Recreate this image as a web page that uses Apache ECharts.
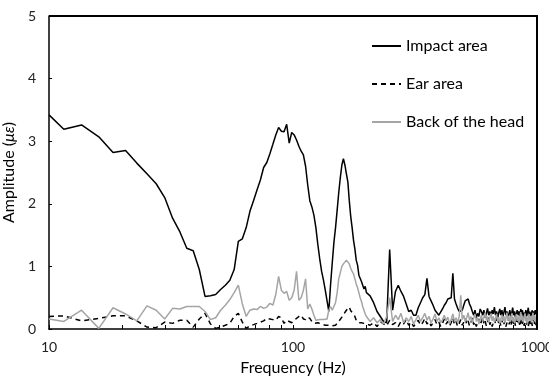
<!DOCTYPE html>
<html>
<head>
<meta charset="utf-8">
<script src="https://cdn.jsdelivr.net/npm/echarts@6/dist/echarts.min.js"></script>
<style>
html,body{margin:0;padding:0;background:#fff;}
#wrap{position:relative;width:549px;height:378px;}
#chart{width:549px;height:378px;}
.ov{position:absolute;pointer-events:none;}
</style>
</head>
<body>
<div id="wrap"><div id="chart"></div></div>
<script>
// Frequency (Hz)
const freq = [
  10,11.5,13.6,16.0,18.3,20.6,22.9,25.2,27.5,29.8,
  32.1,34.4,36.7,39.0,41.3,43.6,45.9,48.2,50.5,52.8,
  55.1,57.4,59.7,62.0,64.3,66.6,68.9,71.2,73.5,75.8,
  78.1,80.4,82.7,85.0,87.3,89.6,91.9,94.2,96.5,98.8,
  101.1,103.4,105.7,108.0,110.3,112.6,114.9,117.2,119.5,121.8,
  124.1,126.4,128.7,131.0,133.3,135.6,137.9,140.2,142.5,144.8,
  147.1,149.4,151.7,154.0,156.3,158.6,160.9,163.2,165.5,167.8,
  170.1,172.4,174.7,177.0,179.3,181.6,183.9,186.2,188.5,190.8,
  193.1,195.4,197.7,200.0,
  207,214,221,228,235,242,249,256,263,270,
  277,284,291,298,305,312,319,326,333,340,
  347,354,361,368,375,382,389,396,403,410,
  417,424,431,438,445,452,459,466,473,480,
  487,494,501,508,515,522,529,536,543,550,
  557,564,571,578,585,592,599,606,613,620,
  627,634,641,648,655,662,669,676,683,690,
  697,704,711,718,725,732,739,746,753,760,
  767,774,781,788,795,802,809,816,823,830,
  837,844,851,858,865,872,879,886,893,900,
  907,914,921,928,935,942,949,956,963,970,
  977,984,991,998
];
// Amplitude (με) – Impact area
const impactArea = [
  3.42,3.19,3.26,3.07,2.82,2.85,2.65,2.48,2.32,2.10,
  1.77,1.55,1.29,1.25,0.95,0.52,0.53,0.55,0.63,0.70,
  0.78,0.95,1.40,1.44,1.62,1.88,2.05,2.22,2.38,2.58,
  2.66,2.80,2.95,3.10,3.22,3.16,3.15,3.27,2.97,3.14,
  3.10,3.02,2.92,2.84,2.78,2.60,2.30,2.05,1.95,1.82,
  1.62,1.35,1.12,0.92,0.78,0.62,0.45,0.28,0.70,1.05,
  1.38,1.62,1.90,2.18,2.42,2.62,2.72,2.62,2.48,2.35,
  2.05,1.80,1.62,1.42,1.28,1.10,1.02,0.86,0.88,0.76,
  0.78,0.64,0.68,0.58,
  0.53,0.42,0.28,0.20,0.12,0.10,1.27,0.30,0.60,0.70,
  0.60,0.52,0.40,0.28,0.30,0.22,0.22,0.34,0.42,0.50,
  0.55,0.81,0.52,0.45,0.38,0.30,0.28,0.22,0.25,0.32,
  0.38,0.42,0.48,0.45,0.50,0.89,0.48,0.40,0.33,0.28,
  0.25,0.30,0.38,0.45,0.42,0.48,0.40,0.35,0.28,0.22,
  0.30,0.18,0.25,0.20,0.32,0.28,0.22,0.30,0.18,0.25,
  0.33,0.22,0.28,0.20,0.30,0.24,0.35,0.22,0.28,0.18,
  0.26,0.32,0.22,0.30,0.20,0.27,0.35,0.22,0.28,0.18,
  0.24,0.30,0.20,0.26,0.34,0.22,0.28,0.18,0.25,0.30,
  0.22,0.28,0.20,0.32,0.24,0.30,0.18,0.26,0.22,0.30,
  0.20,0.27,0.34,0.22,0.28,0.18,0.25,0.30,0.20,0.28,
  0.22,0.30,0.24,0.28
];
// Amplitude (με) – Ear area
const earArea = [
  0.20,0.21,0.13,0.17,0.21,0.21,0.13,0.03,0.02,0.11,
  0.09,0.14,0.14,0.03,0.16,0.25,0.08,0.01,0.03,0.06,
  0.09,0.20,0.25,0.11,0.01,0.05,0.07,0.09,0.11,0.13,
  0.17,0.16,0.15,0.14,0.20,0.18,0.09,0.14,0.12,0.10,
  0.14,0.17,0.20,0.22,0.16,0.15,0.19,0.17,0.12,0.09,
  0.10,0.10,0.10,0.08,0.06,0.06,0.06,0.06,0.05,0.05,
  0.05,0.06,0.09,0.12,0.15,0.19,0.23,0.26,0.30,0.32,
  0.35,0.29,0.26,0.24,0.20,0.14,0.12,0.10,0.08,0.10,
  0.07,0.09,0.06,0.08,
  0.06,0.10,0.04,0.12,0.08,0.05,0.14,0.07,0.10,0.04,
  0.12,0.08,0.15,0.06,0.11,0.04,0.09,0.14,0.06,0.10,
  0.17,0.08,0.12,0.05,0.10,0.15,0.07,0.11,0.04,0.09,
  0.16,0.08,0.12,0.05,0.10,0.18,0.07,0.12,0.04,0.09,
  0.15,0.06,0.11,0.17,0.08,0.13,0.05,0.10,0.18,0.07,
  0.12,0.04,0.10,0.16,0.07,0.12,0.20,0.08,0.13,0.05,
  0.11,0.18,0.07,0.12,0.04,0.10,0.16,0.08,0.13,0.22,
  0.07,0.12,0.05,0.10,0.17,0.08,0.13,0.04,0.10,0.19,
  0.07,0.12,0.05,0.11,0.18,0.08,0.14,0.05,0.10,0.22,
  0.07,0.12,0.04,0.11,0.17,0.08,0.13,0.05,0.10,0.19,
  0.07,0.12,0.04,0.10,0.16,0.08,0.14,0.05,0.11,0.20,
  0.08,0.13,0.06,0.12
];
// Amplitude (με) – Back of the head
const backOfHead = [
  0.16,0.12,0.30,0.01,0.34,0.24,0.13,0.37,0.30,0.16,
  0.33,0.32,0.36,0.36,0.36,0.28,0.15,0.18,0.30,0.38,
  0.47,0.58,0.70,0.40,0.20,0.30,0.32,0.31,0.36,0.33,
  0.35,0.41,0.38,0.55,0.84,0.62,0.57,0.60,0.46,0.50,
  0.62,0.92,0.46,0.50,0.62,0.80,0.32,0.40,0.32,0.22,
  0.14,0.12,0.15,0.17,0.15,0.13,0.16,0.30,0.36,0.30,
  0.30,0.42,0.58,0.80,0.90,1.00,1.04,1.07,1.10,1.09,
  1.04,0.97,0.92,0.88,0.80,0.72,0.66,0.58,0.50,0.44,
  0.36,0.30,0.24,0.20,
  0.12,0.18,0.10,0.15,0.08,0.20,0.50,0.12,0.22,0.15,
  0.25,0.10,0.18,0.12,0.20,0.08,0.15,0.22,0.12,0.18,
  0.25,0.14,0.20,0.10,0.16,0.24,0.12,0.18,0.10,0.15,
  0.22,0.13,0.19,0.08,0.16,0.24,0.12,0.18,0.10,0.20,
  0.54,0.15,0.22,0.12,0.18,0.26,0.14,0.20,0.10,0.17,
  0.24,0.12,0.18,0.08,0.16,0.22,0.12,0.19,0.26,0.14,
  0.20,0.10,0.18,0.25,0.13,0.20,0.11,0.17,0.24,0.12,
  0.19,0.09,0.16,0.23,0.13,0.20,0.10,0.18,0.26,0.14,
  0.21,0.11,0.17,0.25,0.12,0.19,0.09,0.16,0.24,0.13,
  0.20,0.10,0.18,0.27,0.14,0.21,0.11,0.18,0.25,0.12,
  0.20,0.09,0.17,0.24,0.13,0.21,0.10,0.18,0.26,0.14,
  0.20,0.11,0.19,0.24
];
const seriesNames = ['Impact area', 'Ear area', 'Back of the head'];
const xTickLabels = [10, 100, 1000];
const yTickLabels = [0, 1, 2, 3, 4, 5];
const minorTicks = [20,30,40,50,60,70,80,90,200,300,400,500,600,700,800,900];

const FONT = 'Lato, "Open Sans", sans-serif';
const chart = echarts.init(document.getElementById('chart'), null, {renderer: 'canvas'});
const pair = arr => freq.map((f, i) => [f, arr[i]]);
const xMin = xTickLabels[0], xMax = xTickLabels[xTickLabels.length - 1];
const yMin = yTickLabels[0], yMax = yTickLabels[yTickLabels.length - 1];

chart.setOption({
  animation: false,
  backgroundColor: '#fff',
  grid: {left: 49, right: 12, top: 16, bottom: 49, show: false,
         containLabel: false, outerBoundsMode: 'none'},
  legend: {
    orient: 'vertical', left: 371, top: 38, padding: 0,
    itemWidth: 29, itemHeight: 10, itemGap: 22,
    itemStyle: {opacity: 0},
    textStyle: {fontFamily: FONT, fontSize: 16, color: '#000'},
    data: seriesNames
  },
  xAxis: {
    type: 'log', logBase: 10, min: xMin, max: xMax,
    name: 'Frequency (Hz)', nameLocation: 'middle', nameGap: 31,
    nameTextStyle: {fontFamily: FONT, fontSize: 16, color: '#000'},
    axisLine: {onZero: false, lineStyle: {color: '#000', width: 1.5}},
    axisTick: {show: true, inside: true, length: 4, lineStyle: {color: '#000'}},
    axisLabel: {fontFamily: FONT, fontSize: 14, color: '#222', margin: 11, formatter: v => String(v)},
    splitLine: {show: false}
  },
  yAxis: {
    type: 'value', min: yMin, max: yMax, interval: 1,
    name: 'Amplitude ({i|με})', nameLocation: 'middle', nameGap: 24, nameRotate: 90,
    nameTextStyle: {fontFamily: FONT, fontSize: 16, color: '#000',
      rich: {i: {fontFamily: FONT, fontSize: 16, fontStyle: 'italic', color: '#000'}}},
    axisLine: {show: true, onZero: false, lineStyle: {color: '#000', width: 1.5}},
    axisTick: {show: true, inside: true, length: 3, lineStyle: {color: '#000'}},
    axisLabel: {fontFamily: FONT, fontSize: 14, color: '#222', margin: 13},
    splitLine: {show: false}
  },
  series: [
    {
      name: seriesNames[0], type: 'line', data: pair(impactArea),
      symbol: 'none', showSymbol: false,
      lineStyle: {color: '#000', width: 1.5}, itemStyle: {color: '#000'}
    },
    {
      name: seriesNames[1], type: 'line', data: pair(earArea),
      symbol: 'none', showSymbol: false,
      lineStyle: {color: '#000', width: 1.5, type: [5, 4]}, itemStyle: {color: '#000'}
    },
    {
      name: seriesNames[2], type: 'line', data: pair(backOfHead),
      symbol: 'none', showSymbol: false,
      lineStyle: {color: '#a5a5a5', width: 1.5}, itemStyle: {color: '#a5a5a5'}
    }
  ]
});

// Plot frame (top/right) and x minor ticks, placed through the chart's own scales
(function drawOverlay() {
  const wrap = document.getElementById('wrap');
  const finder = {xAxisIndex: 0, yAxisIndex: 0};
  const tl = chart.convertToPixel(finder, [xMin, yMax]);
  const br = chart.convertToPixel(finder, [xMax, yMin]);
  if (!tl || !br) return;
  const top = document.createElement('div');
  top.className = 'ov';
  top.style.cssText += 'left:' + tl[0] + 'px;top:' + (tl[1] - 0.75) + 'px;width:' + (br[0] - tl[0] + 0.75) +
    'px;height:1.5px;background:#000;';
  wrap.appendChild(top);
  const right = document.createElement('div');
  right.className = 'ov';
  right.style.cssText += 'left:' + (br[0] - 0.75) + 'px;top:' + (tl[1] - 0.75) + 'px;width:1.5px;height:' +
    (br[1] - tl[1] + 1.5) + 'px;background:#000;';
  wrap.appendChild(right);
  minorTicks.forEach(f => {
    const p = chart.convertToPixel(finder, [f, yMin]);
    if (!p) return;
    const t = document.createElement('div');
    t.className = 'ov';
    t.style.cssText += 'left:' + (p[0] - 0.5) + 'px;top:' + (p[1] - 4) + 'px;width:1px;height:4px;background:#000;';
    wrap.appendChild(t);
  });
})();
</script>
</body>
</html>
